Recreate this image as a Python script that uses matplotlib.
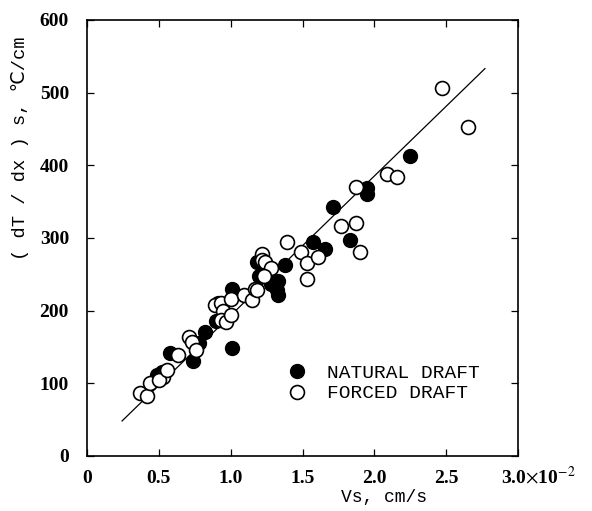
import numpy as np
import matplotlib
matplotlib.use("Agg")
import matplotlib.pyplot as plt

plt.rcParams['mathtext.fontset'] = 'stix'

# --- data ---
natural_vs = [0.49, 0.52, 0.58, 0.74, 0.78, 0.82, 0.90, 0.91, 1.01, 1.01,
              1.18, 1.20, 1.28, 1.32, 1.33, 1.33, 1.38, 1.57, 1.66, 1.71,
              1.83, 1.95, 1.95, 2.25]
natural_grad = [111, 116, 141, 130, 155, 171, 185, 210, 230, 148,
                267, 247, 236, 228, 240, 221, 263, 294, 285, 342,
                297, 369, 361, 413]

forced_vs = [0.37, 0.42, 0.44, 0.53, 0.50, 0.56, 0.63, 0.71, 0.73, 0.76,
             0.89, 0.93, 0.95, 0.93, 0.97, 1.00, 1.00, 1.09, 1.15, 1.17,
             1.18, 1.22, 1.22, 1.24, 1.24, 1.28, 1.23, 1.39, 1.49, 1.53,
             1.61, 1.53, 1.77, 1.87, 1.90, 1.87, 2.09, 2.16, 2.47, 2.65]
forced_grad = [86, 82, 100, 109, 105, 118, 139, 164, 157, 146,
               208, 210, 200, 187, 184, 216, 194, 222, 215, 230,
               228, 278, 269, 267, 249, 258, 247, 294, 281, 265,
               273, 243, 317, 321, 280, 370, 388, 384, 506, 452]

fit_vs = [0.244, 2.77]
fit_grad = [48, 533]

xticks = [0, 0.5, 1.0, 1.5, 2.0, 2.5, 3.0]
xtick_labels = ['0', '0.5', '1.0', '1.5', '2.0', '2.5', '']
yticks = [0, 100, 200, 300, 400, 500, 600]

serif = ['Liberation Serif', 'DejaVu Serif']
mono = ['Liberation Mono', 'DejaVu Sans Mono', 'DejaVu Sans']
xpad = 10

fig = plt.figure(figsize=(5.92, 5.11), dpi=100)
ax = fig.add_axes([0.147, 0.108, 0.728, 0.853])

ax.plot(fit_vs, fit_grad, color='black', linewidth=0.9)
ax.plot(natural_vs, natural_grad, 'o', color='black', markersize=10,
        markeredgewidth=1.0, label='NATURAL DRAFT')
ax.plot(forced_vs, forced_grad, 'o', markerfacecolor='white',
        markeredgecolor='black', markersize=10, markeredgewidth=1.2,
        label='FORCED DRAFT')

ax.set_xlim(0, 3.0)
ax.set_ylim(0, 600)
ax.set_xticks(xticks)
ax.set_xticklabels(xtick_labels)
ax.set_yticks(yticks)
ax.tick_params(direction='in', top=True, right=True, length=5, width=0.9,
               labelsize=14)
ax.tick_params(axis='x', pad=xpad)
ax.tick_params(axis='y', pad=13)
for lab in ax.get_xticklabels() + ax.get_yticklabels():
    lab.set_family(serif)
    lab.set_fontweight('bold')
for sp in ax.spines.values():
    sp.set_linewidth(1.2)

# last x tick label carries the scale factor
ax.annotate('3.0$\\times$10$^{-2}$', xy=(3.0, 0), xycoords='data',
            xytext=(-12, -xpad + 3), textcoords='offset points',
            ha='left', va='top', fontsize=14, family=serif, fontweight='bold')

fig.text(0.648, 0.027, 'Vs, cm/s', family=mono, fontsize=13,
         ha='center', va='center')
fig.text(0.034, 0.71, '( dT / dx ) s, \u2103/cm', family=mono, fontsize=13.5,
         rotation=90, ha='center', va='center')

ax.legend(loc='upper left', bbox_to_anchor=(0.425, 0.25), frameon=False,
          handletextpad=1.0, labelspacing=0.15, handlelength=1.0,
          prop={'family': mono, 'size': 14})

fig.savefig('out.png', dpi=100)
